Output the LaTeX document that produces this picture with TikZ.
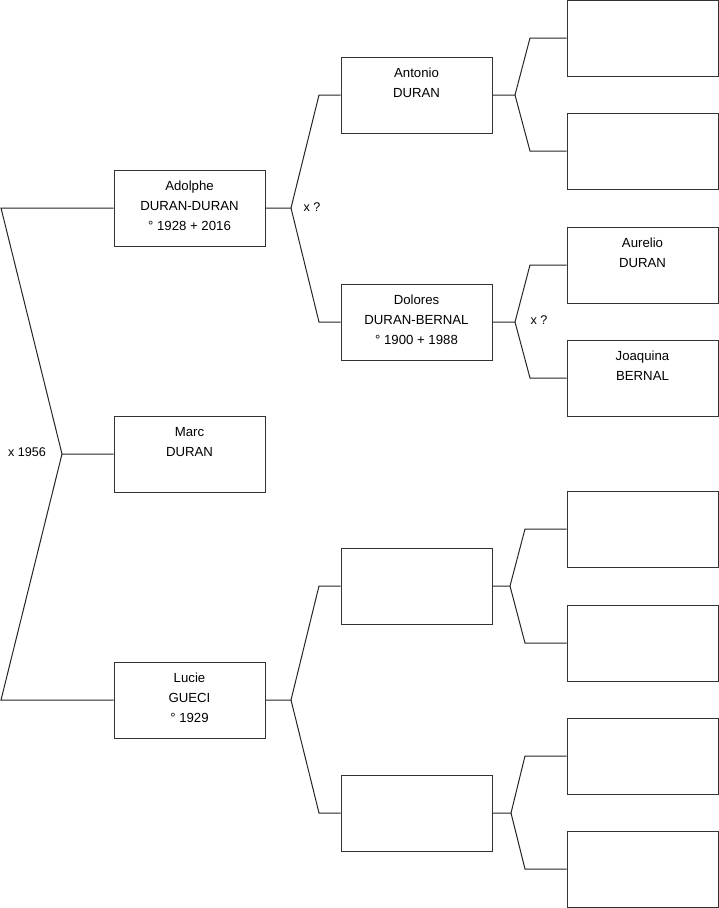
\documentclass[tikz,border=0pt]{standalone}
\usepackage{fontspec}
\setmainfont{Liberation Sans}
\begin{document}
\begin{tikzpicture}[x=1pt,y=-1pt,
  box/.style={draw=black!80,line width=1pt,rectangle,minimum width=151pt,minimum height=76pt,inner sep=0pt},
  txt/.style={anchor=north,inner sep=0pt,align=center,font=\fontsize{13.2pt}{20pt}\selectfont},
  lbl/.style={inner sep=0pt,font=\fontsize{12.6pt}{14pt}\selectfont},
  link/.style={draw=black!85,line width=1pt,line join=miter}]
\useasboundingbox (0,0) rectangle (719,908);
\fill[white] (0,0) rectangle (719,908);
% generation 1
\node[box] (adolphe) at (189.5,208) {};
\node[box] (marc) at (189.5,454) {};
\node[box] (lucie) at (189.5,700) {};
% generation 2
\node[box] (antonio) at (416.5,95) {};
\node[box] (dolores) at (416.5,322) {};
\node[box] (u1) at (416.5,586) {};
\node[box] (u2) at (416.5,813) {};
% generation 3
\node[box] (g1) at (642.5,38) {};
\node[box] (g2) at (642.5,151) {};
\node[box] (aurelio) at (642.5,265) {};
\node[box] (joaquina) at (642.5,378) {};
\node[box] (g5) at (642.5,529) {};
\node[box] (g6) at (642.5,643) {};
\node[box] (g7) at (642.5,756) {};
\node[box] (g8) at (642.5,869) {};
% texts
\node[txt] (tadolphe) at ([yshift=-11.3pt]adolphe.north) {Adolphe\\DURAN-DURAN\\° 1928 + 2016};
\node[txt] (tmarc) at ([yshift=-11.3pt]marc.north) {Marc\\DURAN};
\node[txt] (tlucie) at ([yshift=-11.3pt]lucie.north) {Lucie\\GUECI\\° 1929};
\node[txt] (tantonio) at ([yshift=-11.3pt]antonio.north) {Antonio\\DURAN};
\node[txt] (tdolores) at ([yshift=-11.3pt]dolores.north) {Dolores\\DURAN-BERNAL\\° 1900 + 1988};
\node[txt] (taurelio) at ([yshift=-11.3pt]aurelio.north) {Aurelio\\DURAN};
\node[txt] (tjoaquina) at ([yshift=-11.3pt]joaquina.north) {Joaquina\\BERNAL};
% labels
\node[lbl] (m1956) at (27,452) {x 1956};
\node[lbl] (mq1) at (312,207) {x ?};
\node[lbl] (mq2) at (539,320) {x ?};
% connector coordinates
\coordinate (r1) at (1,208);
\coordinate (r2) at (62,454);
\coordinate (r3) at (1,700);
\coordinate (a0) at (291,208);
\coordinate (a1) at (319,95);
\coordinate (a2) at (319,322);
\coordinate (l0) at (291,700);
\coordinate (l1) at (319,586);
\coordinate (l2) at (319,813);
\coordinate (b0) at (515,95);
\coordinate (b1) at (530,38);
\coordinate (b2) at (530,151);
\coordinate (d0) at (515,322);
\coordinate (d1) at (530,265);
\coordinate (d2) at (530,378);
\coordinate (e0) at (510,586);
\coordinate (e1) at (525,529);
\coordinate (e2) at (525,643);
\coordinate (f0) at (511,813);
\coordinate (f1) at (525,756);
\coordinate (f2) at (525,869);
% connectors
\draw[link] (adolphe.west) -- (r1) -- (r2) -- (marc.west);
\draw[link] (r2) -- (r3) -- (lucie.west);
\draw[link] (adolphe.east) -- (a0) -- (a1) -- (antonio.west);
\draw[link] (a0) -- (a2) -- (dolores.west);
\draw[link] (lucie.east) -- (l0) -- (l1) -- (u1.west);
\draw[link] (l0) -- (l2) -- (u2.west);
\draw[link] (antonio.east) -- (b0) -- (b1) -- (g1.west);
\draw[link] (b0) -- (b2) -- (g2.west);
\draw[link] (dolores.east) -- (d0) -- (d1) -- (aurelio.west);
\draw[link] (d0) -- (d2) -- (joaquina.west);
\draw[link] (u1.east) -- (e0) -- (e1) -- (g5.west);
\draw[link] (e0) -- (e2) -- (g6.west);
\draw[link] (u2.east) -- (f0) -- (f1) -- (g7.west);
\draw[link] (f0) -- (f2) -- (g8.west);
\end{tikzpicture}
\end{document}
